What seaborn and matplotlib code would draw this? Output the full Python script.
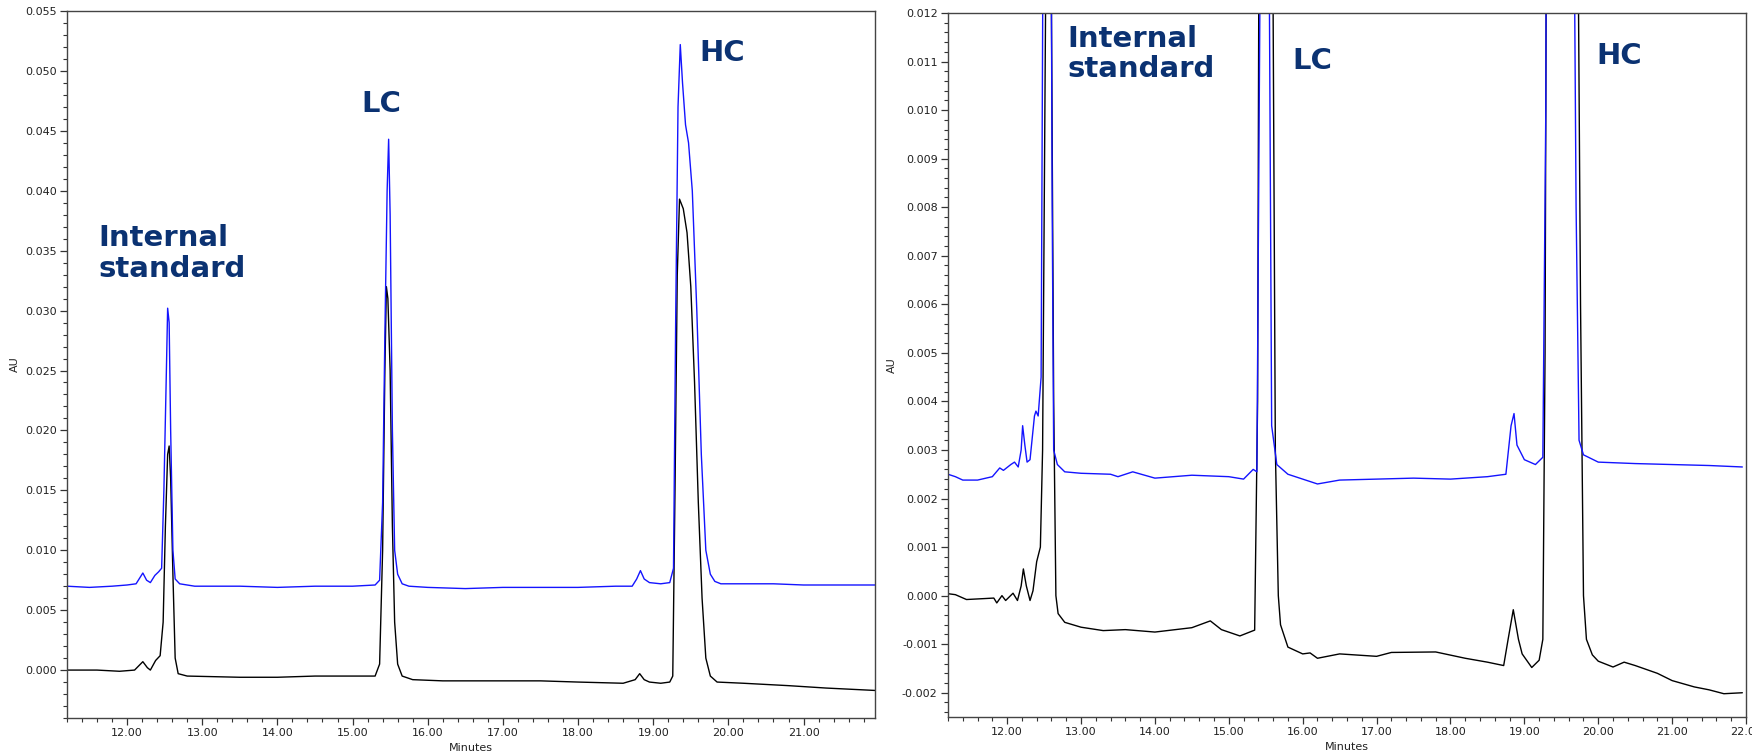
import numpy as np
import matplotlib
matplotlib.use("Agg")
import matplotlib.pyplot as plt
from matplotlib.ticker import MultipleLocator, FormatStrFormatter
import seaborn as sns

# ---- left panel: full scale traces (minutes, AU) ----
t_blue_full = [11.2, 11.5, 11.8, 12.0, 12.12, 12.21, 12.26, 12.31, 12.37, 12.42, 12.46, 12.49,
               12.52, 12.54, 12.56, 12.58, 12.61, 12.64, 12.7, 12.9, 13.5, 14.0, 14.5, 15.0,
               15.3, 15.36, 15.40, 15.43, 15.46, 15.48, 15.50, 15.53, 15.56, 15.6, 15.66, 15.75,
               16.0, 16.5, 17.0, 17.5, 18.0, 18.5, 18.72, 18.78, 18.83, 18.88, 18.95, 19.1,
               19.22, 19.27, 19.30, 19.33, 19.36, 19.39, 19.43, 19.47, 19.52, 19.58, 19.64,
               19.70, 19.76, 19.82, 19.9, 20.2, 20.6, 21.0, 21.5, 21.95]
au_blue_full = [0.0070, 0.0069, 0.0070, 0.0071, 0.0072, 0.0081, 0.0075, 0.0073, 0.0079, 0.0082,
                0.0085, 0.0150, 0.0240, 0.0302, 0.0290, 0.0200, 0.0100, 0.0076, 0.0072, 0.0070,
                0.0070, 0.0069, 0.0070, 0.0070, 0.0071, 0.0075, 0.0140, 0.0280, 0.0400, 0.0443,
                0.0380, 0.0200, 0.0100, 0.0080, 0.0072, 0.0070, 0.0069, 0.0068, 0.0069, 0.0069,
                0.0069, 0.0070, 0.0070, 0.0076, 0.0083, 0.0076, 0.0073, 0.0072, 0.0073, 0.0085,
                0.0300, 0.0470, 0.0522, 0.0490, 0.0455, 0.0440, 0.0400, 0.0300, 0.0180, 0.0100,
                0.0080, 0.0074, 0.0072, 0.0072, 0.0072, 0.0071, 0.0071, 0.0071]

t_black_full = [11.2, 11.6, 11.9, 12.1, 12.21, 12.27, 12.31, 12.38, 12.44, 12.48, 12.51, 12.54,
                12.56, 12.58, 12.61, 12.64, 12.68, 12.8, 13.5, 14.0, 14.5, 15.0, 15.3, 15.36,
                15.40, 15.43, 15.45, 15.47, 15.50, 15.53, 15.56, 15.6, 15.66, 15.8, 16.2, 17.0,
                17.5, 18.0, 18.6, 18.76, 18.82, 18.88, 18.95, 19.1, 19.22, 19.26, 19.29, 19.32,
                19.35, 19.40, 19.45, 19.50, 19.55, 19.60, 19.65, 19.70, 19.76, 19.85, 20.2, 20.8,
                21.3, 21.95]
au_black_full = [0.0000, 0.0000, -0.0001, 0.0000, 0.0007, 0.0002, 0.0000, 0.0008, 0.0012, 0.0040,
                 0.0120, 0.0180, 0.0187, 0.0160, 0.0080, 0.0010, -0.0003, -0.0005, -0.0006,
                 -0.0006, -0.0005, -0.0005, -0.0005, 0.0005, 0.0100, 0.0250, 0.0320, 0.0310,
                 0.0250, 0.0120, 0.0040, 0.0005, -0.0005, -0.0008, -0.0009, -0.0009, -0.0009,
                 -0.0010, -0.0011, -0.0008, -0.0003, -0.0008, -0.0010, -0.0011, -0.0010, -0.0005,
                 0.0150, 0.0330, 0.0393, 0.0385, 0.0365, 0.0320, 0.0240, 0.0140, 0.0060, 0.0010,
                 -0.0005, -0.0010, -0.0011, -0.0013, -0.0015, -0.0017]

# ---- right panel: baseline zoom ----
t_blue_zoom = [11.2, 11.3, 11.4, 11.6, 11.8, 11.9, 11.95, 12.05, 12.1, 12.15, 12.19, 12.21, 12.24,
               12.27, 12.31, 12.37, 12.39, 12.42, 12.46, 12.49, 12.54, 12.58, 12.61, 12.63, 12.68,
               12.78, 13.0, 13.4, 13.5, 13.7, 14.0, 14.5, 15.0, 15.2, 15.33, 15.38, 15.42, 15.48,
               15.54, 15.58, 15.65, 15.8, 16.2, 16.5, 17.0, 17.5, 18.0, 18.5, 18.75, 18.82, 18.86,
               18.9, 19.0, 19.15, 19.25, 19.29, 19.36, 19.6, 19.7, 19.74, 19.8, 20.0, 20.5, 21.0,
               21.5, 21.95]
au_blue_zoom = [0.00250, 0.00245, 0.00238, 0.00238, 0.00245, 0.00263, 0.00258, 0.00270, 0.00275,
                0.00265, 0.00300, 0.00350, 0.00310, 0.00275, 0.00280, 0.00370, 0.00380, 0.00370,
                0.00450, 0.0150, 0.0302, 0.0200, 0.0080, 0.0030, 0.0027, 0.00255, 0.00252,
                0.00250, 0.00245, 0.00255, 0.00242, 0.00248, 0.00245, 0.00240, 0.00260, 0.00255,
                0.0120, 0.0443, 0.0150, 0.0035, 0.0027, 0.0025, 0.0023, 0.00238, 0.0024, 0.00242,
                0.0024, 0.00245, 0.0025, 0.0035, 0.00375, 0.0031, 0.0028, 0.0027, 0.00285, 0.0100,
                0.0522, 0.0300, 0.0080, 0.0032, 0.0029, 0.00275, 0.00272, 0.0027, 0.00268, 0.00265]

t_black_zoom = [11.2, 11.3, 11.45, 11.7, 11.82, 11.86, 11.93, 11.98, 12.08, 12.14, 12.19, 12.22,
                12.26, 12.31, 12.35, 12.40, 12.45, 12.48, 12.52, 12.56, 12.60, 12.63, 12.66, 12.69,
                12.78, 13.0, 13.3, 13.6, 14.0, 14.5, 14.75, 14.9, 15.15, 15.35, 15.39, 15.42, 15.47,
                15.55, 15.6, 15.63, 15.67, 15.7, 15.8, 16.0, 16.1, 16.2, 16.5, 17.0, 17.2, 17.8,
                18.2, 18.5, 18.72, 18.78, 18.85, 18.92, 18.97, 19.1, 19.2, 19.25, 19.28, 19.35,
                19.6, 19.72, 19.76, 19.80, 19.84, 19.92, 20.0, 20.2, 20.35, 20.5, 20.8, 21.0, 21.3,
                21.5, 21.7, 21.95]
au_black_zoom = [0.00004, 0.00002, -0.00008, -0.00006, -0.00005, -0.00015, 0.0, -0.0001, 0.00005,
                 -0.0001, 0.0002, 0.00055, 0.0002, -0.0001, 0.0001, 0.0007, 0.0010, 0.0030, 0.0120,
                 0.0187, 0.0120, 0.0040, 0.0000, -0.00037, -0.00055, -0.00065, -0.00072, -0.0007,
                 -0.00075, -0.00066, -0.00052, -0.0007, -0.00083, -0.00071, 0.0040, 0.0200, 0.0320,
                 0.0200, 0.0120, 0.0030, 0.0000, -0.0006, -0.00106, -0.0012, -0.00118, -0.00129,
                 -0.0012, -0.00125, -0.00117, -0.00116, -0.00129, -0.00137, -0.00144, -0.0009,
                 -0.00029, -0.0009, -0.0012, -0.00148, -0.00133, -0.0009, 0.0050, 0.0393, 0.0200,
                 0.0150, 0.0060, 0.0000, -0.0009, -0.00122, -0.00135, -0.00147, -0.00137, -0.00144,
                 -0.0016, -0.00175, -0.00188, -0.00194, -0.00202, -0.0020]

# peak labels: (text, x, y) in data units of each panel
labels_full = [("Internal\nstandard", 11.62, 0.0372), ("LC", 15.12, 0.0484), ("HC", 19.62, 0.0527)]
labels_zoom = [("Internal\nstandard", 12.82, 0.01175), ("LC", 15.86, 0.01130), ("HC", 19.98, 0.01140)]

sns.set_style("ticks")
plt.rcParams["font.family"] = ["DejaVu Sans"]

fig = plt.figure(figsize=(17.52, 7.55), dpi=100)
ax1 = fig.add_axes([0.0382, 0.049, 0.4612, 0.9364])
ax2 = fig.add_axes([0.5411, 0.0503, 0.4555, 0.9325])

blue = "#1414ff"
navy = "#0b3272"


def style_axis(ax, xlim, ylim, ymajor, yminor, xmax_tick):
    ax.set_xlim(*xlim)
    ax.set_ylim(*ylim)
    ax.set_xticks(np.arange(12, xmax_tick + 0.5, 1.0))
    ax.xaxis.set_minor_locator(MultipleLocator(0.2))
    ax.yaxis.set_major_locator(MultipleLocator(ymajor))
    ax.yaxis.set_minor_locator(MultipleLocator(yminor))
    ax.xaxis.set_major_formatter(FormatStrFormatter("%.2f"))
    ax.yaxis.set_major_formatter(FormatStrFormatter("%.3f"))
    ax.tick_params(which="major", direction="out", length=5, width=0.9, labelsize=8,
                   colors="#333333", labelcolor="#222222", top=False, right=False, pad=2.5)
    ax.tick_params(which="minor", direction="out", length=3, width=0.8, colors="#333333",
                   top=False, right=False)
    for s in ax.spines.values():
        s.set_color("#444444")
        s.set_linewidth(1.0)
    ax.set_xlabel("Minutes", fontsize=8, color="#222222")
    ax.set_ylabel("AU", fontsize=8, color="#222222")


for ax, tb, yb, tk, yk, labels in [
    (ax1, t_blue_full, au_blue_full, t_black_full, au_black_full, labels_full),
    (ax2, t_blue_zoom, au_blue_zoom, t_black_zoom, au_black_zoom, labels_zoom),
]:
    sns.lineplot(x=tk, y=yk, ax=ax, color="black", linewidth=1.0, sort=False, estimator=None)
    sns.lineplot(x=tb, y=yb, ax=ax, color=blue, linewidth=1.0, sort=False, estimator=None)
    for txt, x, y in labels:
        ax.text(x, y, txt, fontsize=21, fontweight="bold", color=navy, ha="left", va="top",
                linespacing=1.1)

style_axis(ax1, (11.2, 21.95), (-0.004, 0.055), 0.005, 0.001, 21)
style_axis(ax2, (11.2, 22.0), (-0.0025, 0.012), 0.001, 0.0002, 22)
ax1.xaxis.set_label_coords(0.5, -0.035)
ax2.xaxis.set_label_coords(0.5, -0.035)
ax1.yaxis.set_label_coords(-0.058, 0.5)
ax2.yaxis.set_label_coords(-0.064, 0.5)

fig.savefig("out.png", dpi=100)
